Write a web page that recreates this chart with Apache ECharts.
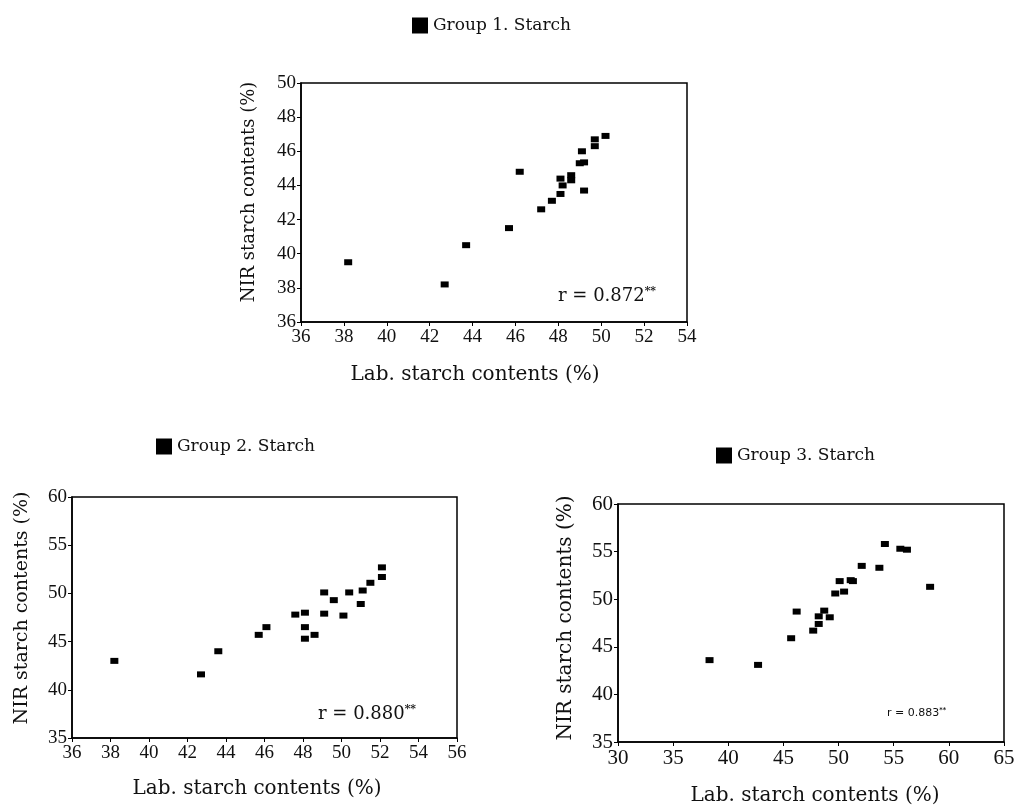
<!DOCTYPE html>
<html>
<head>
<meta charset="utf-8">
<script src="https://cdn.jsdelivr.net/npm/echarts@6/dist/echarts.min.js"></script>
<style>html,body{margin:0;padding:0;background:#fff}#main{width:1022px;height:808px}</style>
</head>
<body>
<div id="main"></div>
<script>
// 그룹별 전분 함량 (Lab vs NIR)
var names = ['Group 1. Starch', 'Group 2. Starch', 'Group 3. Starch'];
var g1_lab = [38.2, 42.7, 43.7, 45.7, 46.2, 47.2, 47.7, 48.1, 48.2, 48.1, 48.6, 48.6, 49.2, 49.0, 49.2, 49.1, 49.7, 49.7, 50.2];
var g1_nir = [39.5, 38.2, 40.5, 41.5, 44.8, 42.6, 43.1, 43.5, 44.0, 44.4, 44.6, 44.3, 43.7, 45.3, 45.35, 46.0, 46.3, 46.7, 46.9];
var g2_lab = [38.2, 42.7, 43.6, 45.7, 46.1, 47.6, 48.1, 48.1, 48.1, 48.6, 49.1, 49.1, 49.6, 50.1, 50.4, 51.0, 51.1, 51.5, 52.1, 52.1];
var g2_nir = [43.0, 41.6, 44.0, 45.7, 46.5, 47.8, 48.0, 46.5, 45.3, 45.7, 50.1, 47.9, 49.3, 47.7, 50.1, 48.9, 50.3, 51.1, 51.7, 52.7];
var g3_lab = [38.3, 42.7, 45.7, 46.2, 47.7, 48.2, 48.2, 48.7, 49.2, 49.7, 50.1, 50.5, 51.1, 51.3, 52.1, 53.7, 54.2, 55.6, 56.2, 58.3];
var g3_nir = [43.6, 43.1, 45.9, 48.7, 46.7, 47.4, 48.2, 48.8, 48.1, 50.6, 51.9, 50.8, 52.0, 51.9, 53.5, 53.3, 55.8, 55.3, 55.2, 51.3];
var r_text = ['r = 0.872', 'r = 0.880', 'r = 0.883'];
var xTitle = 'Lab. starch contents (%)';
var yTitle = 'NIR starch contents (%)';

var font = 'DejaVu Serif';
var tickFont = 'Liberation Serif';

function pairs(xs, ys) {
    var out = [];
    for (var i = 0; i < xs.length; i++) out.push([xs[i], ys[i]]);
    return out;
}

function axisX(idx, min, max, step, fs) {
    return {
        gridIndex: idx, type: 'value', min: min, max: max, interval: step,
        axisLine: {show: true, onZero: false, lineStyle: {color: '#000', width: 1.5}},
        axisTick: {show: true, length: 4, lineStyle: {color: '#000'}},
        axisLabel: {fontFamily: tickFont, fontSize: fs, color: '#111', margin: 6},
        splitLine: {show: false}
    };
}
function axisY(idx, min, max, step, fs) {
    return {
        gridIndex: idx, type: 'value', min: min, max: max, interval: step,
        axisLine: {show: true, onZero: false, lineStyle: {color: '#000', width: 1.5}},
        axisTick: {show: true, length: 4, lineStyle: {color: '#000'}},
        axisLabel: {fontFamily: tickFont, fontSize: fs, color: '#111', margin: 5},
        splitLine: {show: false}
    };
}
function legendAt(name, left, top) {
    return {
        data: [name], left: left, top: top, icon: 'rect', itemWidth: 16, itemHeight: 16, itemGap: 6,
        textStyle: {fontFamily: font, fontSize: 17, color: '#111'}
    };
}
function rLabel(txt, left, top, size, fam) {
    return {
        text: '{a|' + txt + '}{b|**}', left: left, top: top,
        textStyle: {
            fontWeight: 'normal',
            rich: {
                a: {fontFamily: fam, fontSize: size, color: '#111', fontWeight: 'normal'},
                b: {fontFamily: fam, fontSize: size * 0.6, color: '#111', fontWeight: 'bold', verticalAlign: 'top', padding: [0, 0, size * 0.5, 0]}
            }
        }
    };
}
function axisTitle(txt, cx, cy, fs, vertical) {
    return {
        type: 'text', x: cx, y: cy, rotation: vertical ? Math.PI / 2 : 0,
        style: {text: txt, fontFamily: font, fontSize: fs, fill: '#111', textAlign: 'center', textVerticalAlign: 'middle'}
    };
}

var myChart = echarts.init(document.getElementById('main'));
var option = {
    backgroundColor: '#fff',
    animation: false,
    title: [
        rLabel(r_text[0], 553, 281, 18, font),
        rLabel(r_text[1], 313, 699, 18, font),
        rLabel(r_text[2], 882, 702, 11, 'DejaVu Sans')
    ],
    legend: [
        legendAt(names[0], 407, 12),
        legendAt(names[1], 151, 433),
        legendAt(names[2], 711, 442)
    ],
    graphic: [
        axisTitle(xTitle, 475, 375, 20, false),
        axisTitle(yTitle, 249, 192, 18, true),
        axisTitle(xTitle, 257, 789, 20, false),
        axisTitle(yTitle, 22, 608, 19, true),
        axisTitle(xTitle, 815, 796, 20, false),
        axisTitle(yTitle, 566, 618, 20, true)
    ],
    grid: [
        {left: 301, top: 83, width: 386, height: 239, show: true, borderColor: '#000', borderWidth: 1.5, backgroundColor: 'transparent'},
        {left: 72, top: 497, width: 385, height: 241, show: true, borderColor: '#000', borderWidth: 1.5, backgroundColor: 'transparent'},
        {left: 618, top: 504, width: 386, height: 238, show: true, borderColor: '#000', borderWidth: 1.5, backgroundColor: 'transparent'}
    ],
    xAxis: [axisX(0, 36, 54, 2, 19), axisX(1, 36, 56, 2, 19), axisX(2, 30, 65, 5, 21)],
    yAxis: [axisY(0, 36, 50, 2, 19), axisY(1, 35, 60, 5, 19), axisY(2, 35, 60, 5, 21)],
    series: [
        {name: names[0], type: 'scatter', xAxisIndex: 0, yAxisIndex: 0, symbol: 'rect', symbolSize: [8, 6],
            itemStyle: {color: '#000', opacity: 1}, data: pairs(g1_lab, g1_nir)},
        {name: names[1], type: 'scatter', xAxisIndex: 1, yAxisIndex: 1, symbol: 'rect', symbolSize: [8, 6],
            itemStyle: {color: '#000', opacity: 1}, data: pairs(g2_lab, g2_nir)},
        {name: names[2], type: 'scatter', xAxisIndex: 2, yAxisIndex: 2, symbol: 'rect', symbolSize: [8, 6],
            itemStyle: {color: '#000', opacity: 1}, data: pairs(g3_lab, g3_nir)}
    ]
};
myChart.setOption(option, true);
</script>
</body>
</html>
